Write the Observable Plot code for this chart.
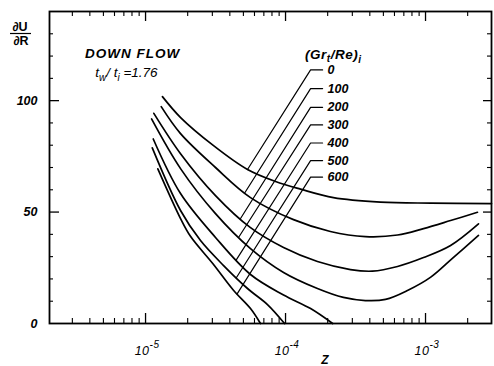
<!DOCTYPE html>
<html><head><meta charset="utf-8">
<script src="https://cdn.jsdelivr.net/npm/d3@7"></script>
<script src="https://cdn.jsdelivr.net/npm/@observablehq/plot@0.6"></script>
<style>body{margin:0;background:#fff}svg{display:block}</style>
</head><body><div id="chart"></div>
<script>
// ---- data ----
const seriesLabels = ["0", "100", "200", "300", "400", "500", "600"];

const gr0Z = [1.32e-5, 1.78e-5, 3.06e-5, 5.35e-5, 8.49e-5, 1.28e-4, 2.20e-4, 4.77e-4, 1.09e-3, 2.96e-3];
const gr0V = [101.8, 92.4, 79.8, 69.1, 63.7, 60.3, 56.5, 54.5, 54.0, 53.8];

const gr100Z = [1.294e-5, 1.778e-5, 3.16e-5, 5.62e-5, 1.14e-4, 2.09e-4, 3.72e-4, 6.31e-4, 9.68e-4, 1.51e-3, 2.35e-3];
const gr100V = [97.3, 85.2, 70.0, 56.5, 46.6, 41.3, 39.0, 39.7, 42.6, 46.2, 49.9];

const gr200Z = [1.146e-5, 1.778e-5, 3.16e-5, 5.62e-5, 9.68e-5, 1.69e-4, 2.91e-4, 4.18e-4, 6.31e-4, 9.68e-4, 1.51e-3, 2.39e-3];
const gr200V = [94.3, 76.2, 57.4, 43.0, 34.1, 27.8, 24.2, 23.5, 25.6, 29.6, 35.0, 44.7];

const gr300Z = [1.104e-5, 1.778e-5, 3.16e-5, 5.62e-5, 9.68e-5, 1.69e-4, 2.59e-4, 3.72e-4, 5.18e-4, 7.43e-4, 1.09e-3, 1.585e-3, 2.39e-3];
const gr300V = [91.8, 69.5, 49.3, 33.6, 22.9, 15.7, 11.7, 10.3, 10.8, 14.8, 20.8, 29.7, 39.5];

const gr400Z = [1.135e-5, 1.778e-5, 3.16e-5, 5.62e-5, 9.68e-5, 1.51e-4, 2.17e-4];
const gr400V = [82.8, 58.3, 38.6, 22.0, 12.8, 6.7, 0];

const gr500Z = [1.117e-5, 1.778e-5, 2.47e-5, 3.61e-5, 5.35e-5, 7.43e-5, 9.84e-5];
const gr500V = [78.8, 50.7, 37.2, 26.0, 15.7, 8.5, 0];

const gr600Z = [1.224e-5, 1.778e-5, 2.10e-5, 3.02e-5, 4.26e-5, 5.62e-5, 6.62e-5];
const gr600V = [69.4, 47.1, 39.0, 26.9, 14.8, 6.7, 0];

// leader lines: label anchor (data units) and the z where each leader meets its curve
const labelZ = 1.51e-4;
const labelV = [113.8, 105.4, 97.0, 89.1, 81.0, 73.1, 65.7];
const leaderEndZ = [5.35e-5, 5.12e-5, 4.77e-5, 4.64e-5, 4.46e-5, 4.45e-5, 4.50e-5];

// axis ticks
const yTickLabels = [0, 50, 100];
const yMajor = [50, 100];
const yMinor = [10, 20, 30, 40, 60, 70, 80, 90, 110, 120, 130];
const xTickExps = [-5, -4, -3];
const xMajor = [1e-5, 1e-4, 1e-3];
const xMinor = [3e-6, 4e-6, 5e-6, 6e-6, 7e-6, 8e-6, 9e-6,
                2e-5, 3e-5, 4e-5, 5e-5, 6e-5, 7e-5, 8e-5, 9e-5,
                2e-4, 3e-4, 4e-4, 5e-4, 6e-4, 7e-4, 8e-4, 9e-4, 2e-3];

// ---- build tables ----
const curveZ = [gr0Z, gr100Z, gr200Z, gr300Z, gr400Z, gr500Z, gr600Z];
const curveV = [gr0V, gr100V, gr200V, gr300V, gr400V, gr500V, gr600V];
const rows = [];
curveZ.forEach((zs, i) => zs.forEach((z, j) => rows.push({series: seriesLabels[i], z, v: curveV[i][j]})));

function interpOnCurve(i, z) {
  const zs = curveZ[i], vs = curveV[i], lz = Math.log10(z);
  for (let j = 0; j < zs.length - 1; j++) {
    const a = Math.log10(zs[j]), b = Math.log10(zs[j + 1]);
    if (lz >= a && lz <= b) return vs[j] + (vs[j + 1] - vs[j]) * (lz - a) / (b - a);
  }
  return vs[0];
}
const W = 494, H = 366, mL = 49, mR = 3, mT = 11, mB = 43;
const plotW = W - mL - mR, plotH = H - mT - mB;
const decadePx = plotW / Math.log10(2.96e-3 / 2.06e-6);
const tickFactor = Math.pow(10, 12 / decadePx);

const leaderRows = [];
seriesLabels.forEach((s, i) => {
  leaderRows.push({s, z: leaderEndZ[i], v: interpOnCurve(i, leaderEndZ[i])});
  leaderRows.push({s, z: labelZ, v: labelV[i]});
  leaderRows.push({s, z: labelZ * tickFactor, v: labelV[i]});
});
const labelRows = seriesLabels.map((s, i) => ({s, z: labelZ, v: labelV[i]}));

const font = "'Liberation Sans', Arial, sans-serif";

const plot = Plot.plot({
  width: W, height: H,
  marginLeft: mL, marginRight: mR, marginTop: mT, marginBottom: mB,
  style: {fontFamily: font, background: "white", color: "black"},
  x: {type: "log", domain: [2.06e-6, 2.96e-3], axis: null},
  y: {domain: [0, 140], axis: null},
  marks: [
    Plot.frame({stroke: "black", strokeWidth: 1.8}),
    Plot.tickX(xMinor, {x: d => d, insetTop: plotH - 5, strokeWidth: 1.1}),
    Plot.tickX(xMajor, {x: d => d, insetTop: plotH - 10, strokeWidth: 1.3}),
    Plot.tickX(xMinor, {x: d => d, insetBottom: plotH - 5, strokeWidth: 1.1}),
    Plot.tickX(xMajor, {x: d => d, insetBottom: plotH - 10, strokeWidth: 1.3}),
    Plot.tickY(yMinor, {y: d => d, insetRight: plotW - 4, strokeWidth: 1.1}),
    Plot.tickY(yMajor, {y: d => d, insetRight: plotW - 10, strokeWidth: 1.3}),
    Plot.tickY(yMinor, {y: d => d, insetLeft: plotW - 4, strokeWidth: 1.1}),
    Plot.tickY(yMajor, {y: d => d, insetLeft: plotW - 8, strokeWidth: 1.3}),
    Plot.text(yTickLabels, {y: d => d, frameAnchor: "left", dx: -12, textAnchor: "end",
      text: d => String(d), fontSize: 12.5, fontWeight: "bold", fontStyle: "italic", letterSpacing: 0.5}),
    Plot.line(rows, {x: "z", y: "v", z: "series", curve: "catmull-rom", stroke: "black", strokeWidth: 1.7}),
    Plot.line(leaderRows, {x: "z", y: "v", z: "s", stroke: "black", strokeWidth: 1.2}),
    Plot.text(labelRows, {x: "z", y: "v", text: "s", dx: 17, textAnchor: "start",
      fontSize: 12.5, fontWeight: "bold", fontStyle: "italic", letterSpacing: 1})
  ]
});
document.getElementById("chart").appendChild(plot);

// ---- annotations (positioned through the scales) ----
const svg = d3.select(plot);
const sx = plot.scale("x"), sy = plot.scale("y");

xTickExps.forEach(e => {
  const t = svg.append("text")
    .attr("x", sx.apply(Math.pow(10, e)) + 2).attr("y", H - 11)
    .attr("text-anchor", "middle").attr("font-family", font)
    .attr("font-style", "italic").attr("font-size", 12.5).attr("letter-spacing", 0.5);
  t.append("tspan").text("10");
  t.append("tspan").attr("dy", -7).attr("font-size", 10).text(String(e));
});

svg.append("text").attr("x", sx.apply(1.93e-4)).attr("y", H - 2)
  .attr("text-anchor", "middle").attr("font-family", font)
  .attr("font-style", "italic").attr("font-weight", "bold").attr("font-size", 12).text("Z");

// y-axis title: ∂U / ∂R as a fraction
svg.append("text").attr("x", mL - 29).attr("y", mT + 20).attr("text-anchor", "middle")
  .attr("font-family", font).attr("font-weight", "bold").attr("font-size", 12.5).text("∂U");
svg.append("line").attr("x1", mL - 39).attr("x2", mL - 18).attr("y1", mT + 22.5).attr("y2", mT + 22.5)
  .attr("stroke", "black").attr("stroke-width", 1.2);
svg.append("text").attr("x", mL - 28).attr("y", mT + 34).attr("text-anchor", "middle")
  .attr("font-family", font).attr("font-weight", "bold").attr("font-size", 12.5).text("∂R");

svg.append("text").attr("x", sx.apply(3.73e-6)).attr("y", sy.apply(118.9)).attr("text-anchor", "start")
  .attr("font-family", font).attr("font-style", "italic").attr("font-weight", "bold")
  .attr("font-size", 13.5).attr("letter-spacing", 1).text("DOWN FLOW");

const tw = svg.append("text").attr("x", sx.apply(4.4e-6)).attr("y", sy.apply(110.4)).attr("text-anchor", "start")
  .attr("font-family", font).attr("font-style", "italic").attr("font-size", 13.5);
tw.append("tspan").text("t");
tw.append("tspan").attr("dy", 4).attr("font-size", 10).text("w");
tw.append("tspan").attr("dy", -4).text("/ t");
tw.append("tspan").attr("dy", 4).attr("font-size", 10).text("i");
tw.append("tspan").attr("dy", -4).text(" =1.76");

const gr = svg.append("text").attr("x", sx.apply(1.39e-4)).attr("y", sy.apply(118.4)).attr("text-anchor", "start")
  .attr("font-family", font).attr("font-style", "italic").attr("font-weight", "bold")
  .attr("font-size", 13.5).attr("letter-spacing", 0.5);
gr.append("tspan").text("(Gr");
gr.append("tspan").attr("dy", 3).attr("font-size", 10).text("t");
gr.append("tspan").attr("dy", -3).text("/Re)");
gr.append("tspan").attr("dy", 4).attr("font-size", 10).text("i");
</script>
</body></html>
